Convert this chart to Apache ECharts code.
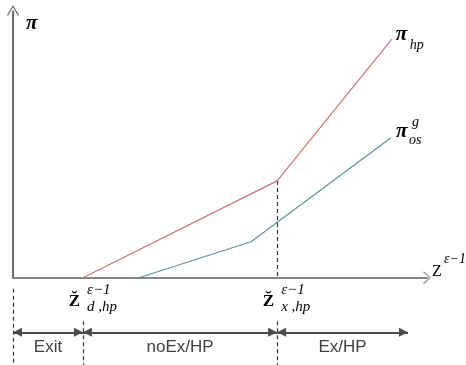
<!DOCTYPE html>
<html><head><meta charset="utf-8">
<script src="https://cdn.jsdelivr.net/npm/echarts@6/dist/echarts.min.js"></script>
<style>html,body{margin:0;padding:0;background:#fff}#chart{width:466px;height:365px}</style>
</head><body><div id="chart"></div>
<script>
// Thresholds on the z^(ε−1) axis: z̆_d,hp and z̆_x,hp
const thresholds = [1.69, 6.38];
const thresholdSubs = ['d ,hp', 'x ,hp'];
// Regime boundaries along the bottom and their names
const regimeBounds = [0, 1.69, 6.38, 9.54];
const regimeNames = ['Exit', 'noEx/HP', 'Ex/HP'];
// Profit curves (piecewise linear)
const hpX = [1.69, 6.38, 9.15];
const hpY = [0, 3.55, 8.75];
const osX = [3.04, 5.75, 9.13];
const osY = [0, 1.32, 5.13];

const X_MAX = 10, Y_MIN = -3.2, Y_MAX = 10;
const REGIME_Y = -2, REGIME_TEXT_Y = -2.55;

const SERIF = '"Liberation Serif", "DejaVu Serif", serif';
const SANS = '"Liberation Sans", Arial, sans-serif';
const chevron = 'path://M0,0 L10,11 L8.4,12 L0,2.4 L-8.4,12 L-10,11 Z';
// arrow head whose tip sits at the centre of its box, so it stays inside the span
const innerHead = 'path://M0,-10 L0.01,-10 L0,-9.99 Z M0,0 L5,10 L-5,10 Z';

const zip = (xs, ys) => xs.map((x, i) => [x, ys[i]]);

function txt(coord, text, offset, opts) {
  return {
    coord, symbolSize: 0,
    label: Object.assign({
      show: true, formatter: text, offset, position: 'inside',
      align: 'left', verticalAlign: 'middle',
      color: '#000', fontFamily: SERIF, fontSize: 14
    }, opts || {})
  };
}

const labels = [];
// vertical axis symbol π
labels.push(txt([0, Y_MAX], 'π', [13, 19], {fontSize: 21, fontWeight: 'bold', fontStyle: 'italic'}));
// horizontal axis symbol z^(ε−1)
labels.push(txt([X_MAX, 0], 'Z', [5, -6], {fontSize: 16}));
labels.push(txt([X_MAX, 0], 'ε−1', [17, -18], {fontSize: 14, fontStyle: 'italic'}));
// curve end labels
const hpEnd = [hpX[hpX.length - 1], hpY[hpY.length - 1]];
const osEnd = [osX[osX.length - 1], osY[osY.length - 1]];
labels.push(txt(hpEnd, 'π', [4, -5], {fontSize: 21, fontWeight: 'bold', fontStyle: 'italic'}));
labels.push(txt(hpEnd, 'hp', [18, 6], {fontSize: 14, fontStyle: 'italic'}));
labels.push(txt(osEnd, 'π', [5, -6], {fontSize: 21, fontWeight: 'bold', fontStyle: 'italic'}));
labels.push(txt(osEnd, 'g', [21, -16], {fontSize: 14, fontStyle: 'italic'}));
labels.push(txt(osEnd, 'os', [18, 2], {fontSize: 14, fontStyle: 'italic'}));
// threshold labels under the axis
thresholds.forEach((z, i) => {
  labels.push(txt([z, 0], 'Z\u0306', [-3, 24], {align: 'right', fontSize: 17, fontWeight: 'bold'}));
  labels.push(txt([z, 0], 'ε−1', [4, 12], {fontSize: 15, fontStyle: 'italic'}));
  labels.push(txt([z, 0], thresholdSubs[i], [4, 29], {fontSize: 15, fontStyle: 'italic'}));
});
// regime names
regimeNames.forEach((name, i) => {
  const mid = (regimeBounds[i] + regimeBounds[i + 1]) / 2;
  labels.push(txt([mid, REGIME_TEXT_Y], name, [0, 0],
    {align: 'center', fontFamily: SANS, fontSize: 17, color: '#404040'}));
});

const dash = {type: [4, 3], color: '#333', width: 1.2};
const guideLines = [
  [{coord: [0, -0.4]}, {coord: [0, Y_MIN]}],
  [{coord: [thresholds[0], -1.6]}, {coord: [thresholds[0], Y_MIN]}],
  [{coord: [thresholds[1], hpY[1]]}, {coord: [thresholds[1], 0]}],
  [{coord: [thresholds[1], -1.6]}, {coord: [thresholds[1], Y_MIN]}]
].map(seg => seg.map(p => Object.assign(p, {symbol: 'none'})))
 .map(seg => { seg[0].lineStyle = dash; return seg; });

// double-headed arrows spanning each regime
const regimeArrows = regimeNames.map((_, i) => [
  {coord: [regimeBounds[i], REGIME_Y]},
  {coord: [regimeBounds[i + 1], REGIME_Y]}
]);

const chart = echarts.init(document.getElementById('chart'));
chart.setOption({
  animation: false,
  backgroundColor: '#fff',
  grid: {left: 13, right: 39, top: 5, bottom: 0},
  xAxis: {
    type: 'value', min: 0, max: X_MAX,
    axisLine: {onZero: true, lineStyle: {color: '#858585', width: 2},
      symbol: ['none', chevron], symbolSize: [13, 12]},
    axisTick: {show: false}, axisLabel: {show: false}, splitLine: {show: false}
  },
  yAxis: {
    type: 'value', min: Y_MIN, max: Y_MAX,
    axisLine: {show: false}, axisTick: {show: false}, axisLabel: {show: false}, splitLine: {show: false}
  },
  series: [
    {
      name: 'π hp', type: 'line', data: zip(hpX, hpY), symbol: 'none',
      lineStyle: {color: '#c97573', width: 1.2}, z: 3
    },
    {
      name: 'π os g', type: 'line', data: zip(osX, osY), symbol: 'none',
      lineStyle: {color: '#5d93a3', width: 1.2}, z: 3
    },
    {
      name: 'axis', type: 'line', data: [], silent: true,
      markLine: {
        silent: true, animation: false, label: {show: false},
        symbol: ['none', chevron], symbolSize: [12, 11],
        lineStyle: {color: '#6f6f6f', width: 2, type: 'solid'},
        data: [[{coord: [0, 0], symbol: 'none'}, {coord: [0, Y_MAX - 0.2]}]]
      }
    },
    {
      name: 'guides', type: 'line', data: [], silent: true,
      markLine: {silent: true, animation: false, label: {show: false},
        lineStyle: dash, data: guideLines}
    },
    {
      name: 'regimes', type: 'line', data: [], silent: true,
      markLine: {silent: true, animation: false, label: {show: false},
        symbol: [innerHead, innerHead], symbolSize: [9, 18],
        lineStyle: {color: '#4a4a4a', width: 2, type: 'solid'},
        itemStyle: {color: '#222'},
        data: regimeArrows}
    },
    {
      name: 'labels', type: 'line', data: [], silent: true,
      markPoint: {silent: true, animation: false, data: labels}
    }
  ]
});
</script>
</body></html>
